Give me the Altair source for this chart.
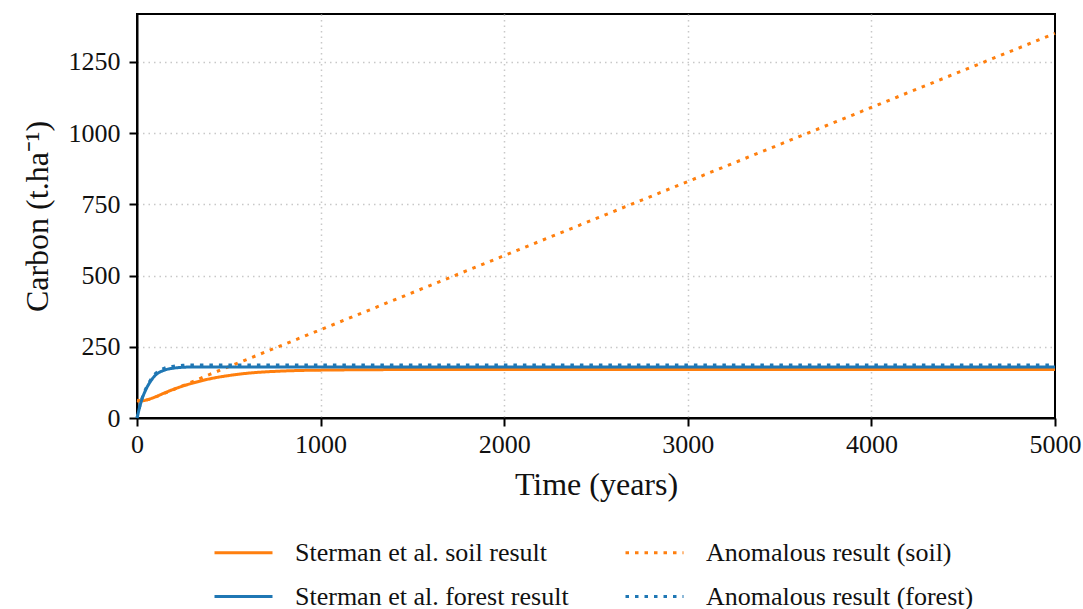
import altair as alt
import pandas as pd

# Sterman et al. soil result (solid orange)
soil_t = [0, 25, 50, 100, 150, 200, 300, 400, 500, 600, 800, 1000, 1500, 2000, 3000, 5000]
soil_c = [62, 60, 63, 74, 88, 101, 122, 138, 149, 157, 165, 168, 170, 170, 170, 170]

# Sterman et al. forest result (solid blue)
forest_t = [0, 25, 50, 75, 100, 150, 200, 250, 300, 400, 500, 1000, 5000]
forest_c = [0, 62, 102, 130, 150, 168, 175, 178, 179, 179, 179, 179, 179]

# Anomalous result (soil) (dotted orange)
anom_soil_t = [0, 50, 100, 200, 300, 400, 500, 1000, 2000, 3000, 4000, 5000]
anom_soil_c = [60, 63, 74, 100, 127, 154, 180, 310, 570, 830, 1090, 1350]

# Anomalous result (forest) (dotted blue)
anom_forest_t = [0, 25, 50, 75, 100, 150, 200, 250, 300, 400, 500, 1000, 5000]
anom_forest_c = [0, 64, 106, 135, 156, 175, 182, 185, 186, 186, 186, 186, 186]

series_names = [
    "Sterman et al. soil result",
    "Anomalous result (soil)",
    "Sterman et al. forest result",
    "Anomalous result (forest)",
]
series_colors = ["#ff7f0e", "#ff7f0e", "#1f77b4", "#1f77b4"]
series_dash = [[1, 0], [3.5, 6], [1, 0], [3.5, 6]]

rows = []
for name, ts, cs in [
    (series_names[0], soil_t, soil_c),
    (series_names[1], anom_soil_t, anom_soil_c),
    (series_names[2], forest_t, forest_c),
    (series_names[3], anom_forest_t, anom_forest_c),
]:
    for t, c in zip(ts, cs):
        rows.append({"series": name, "time": t, "carbon": c})
df = pd.DataFrame(rows)

font = "Liberation Serif"

x_grid_opacity = {"condition": {"test": "datum.value == 0 || datum.value == 5000", "value": 0}, "value": 1}
y_grid_opacity = {"condition": {"test": "datum.value == 0", "value": 0}, "value": 1}

chart = (
    alt.Chart(df)
    .mark_line(strokeWidth=3, interpolate="monotone")
    .encode(
        x=alt.X(
            "time:Q",
            title="Time (years)",
            scale=alt.Scale(domain=[0, 5000], nice=False, zero=False),
            axis=alt.Axis(values=[0, 1000, 2000, 3000, 4000, 5000], format="d",
                          labelPadding=5, titlePadding=12, labelFlush=False,
                          gridOpacity=x_grid_opacity),
        ),
        y=alt.Y(
            "carbon:Q",
            title="Carbon (t.ha⁻¹)",
            scale=alt.Scale(domain=[0, 1418], nice=False),
            axis=alt.Axis(values=[0, 250, 500, 750, 1000, 1250], format="d",
                          labelPadding=9, titlePadding=14, labelFlush=False,
                          gridOpacity=y_grid_opacity),
        ),
        color=alt.Color(
            "series:N",
            scale=alt.Scale(domain=series_names, range=series_colors),
            legend=alt.Legend(
                title=None,
                orient="none",
                legendX=76,
                legendY=508,
                columns=2,
                direction="horizontal",
                symbolType="stroke",
                symbolSize=3364,
                symbolStrokeWidth=3,
                labelFont=font,
                labelFontSize=26,
                labelColor="#111111",
                labelOffset=21,
                rowPadding=-13,
                columnPadding=50,
                labelLimit=400,
                padding=0,
            ),
        ),
        strokeDash=alt.StrokeDash(
            "series:N",
            scale=alt.Scale(domain=series_names, range=series_dash),
            legend=None,
        ),
        detail="series:N",
    )
    .properties(
        width=918,
        height=404,
        autosize=alt.AutoSizeParams(type="none"),
        padding={"left": 137, "top": 14, "right": 28, "bottom": 191},
    )
    .configure_view(stroke="black", strokeWidth=2, strokeDash=[10, 0])
    .configure_axis(
        labelFont=font,
        titleFont=font,
        labelFontSize=26,
        titleFontSize=32,
        titleFontWeight="normal",
        labelColor="#111111",
        titleColor="#111111",
        domain=True,
        domainColor="black",
        domainWidth=2,
        tickColor="black",
        tickWidth=2,
        tickSize=8,
        grid=True,
        gridColor="#c8c8c8",
        gridDash=[1.5, 4],
        gridWidth=1.5,
    )
)

chart.save("out.html", embed_options={"renderer": "svg", "actions": False})
